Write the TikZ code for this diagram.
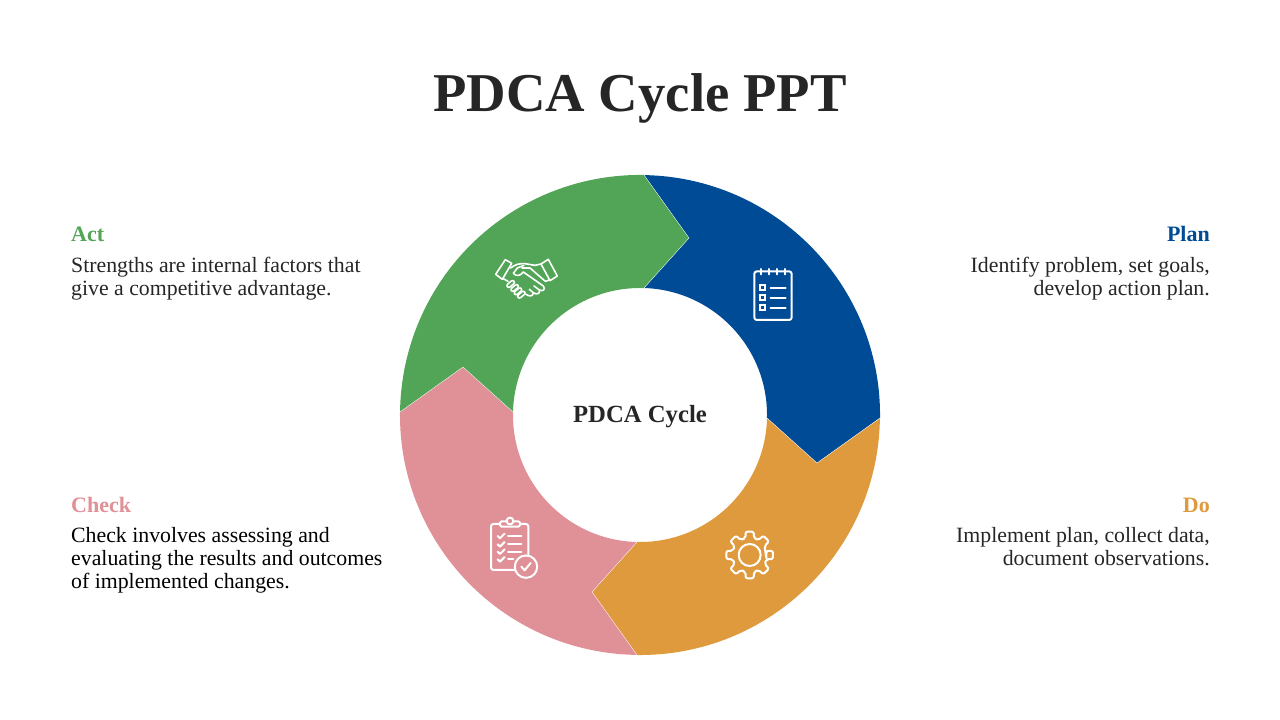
\documentclass[tikz,border=0pt]{standalone}
\usepackage{fontspec}
\setmainfont{Liberation Serif}
\usetikzlibrary{calc}
\definecolor{planc}{HTML}{004B96}
\definecolor{doc}{HTML}{E09A3E}
\definecolor{checkc}{HTML}{E09097}
\definecolor{actc}{HTML}{52A557}
\definecolor{inkc}{HTML}{262626}
\tikzset{
  seg/.style={draw=white,line width=0.3pt,line join=miter},
  ico/.style={draw=white,line width=2pt,line cap=round,line join=round,fill=none},
  hs/.style={draw=white,line width=1.6pt,line cap=round,line join=round},
  headl/.style={anchor=base west,inner sep=0,font=\fontsize{22}{24}\selectfont\bfseries},
  headr/.style={anchor=base east,inner sep=0,font=\fontsize{22}{24}\selectfont\bfseries},
  bodyl/.style={anchor=north west,inner sep=0,align=left,text=inkc,font=\fontsize{21.8}{23}\selectfont},
  bodyr/.style={anchor=north east,inner sep=0,align=right,text=inkc,font=\fontsize{21.8}{23}\selectfont},
}
\begin{document}
\begin{tikzpicture}[x=1pt,y=1pt]
\useasboundingbox (0,0) rectangle (1280,720);
\coordinate (c) at (640,305);
% Plan
\fill[planc] (644,545) -- (689,482) -- (644,432) arc[start angle=88.2,end angle=-1.35,radius=127] -- (817,257) -- (880,302) arc[start angle=-0.7,end angle=89.05,radius=240] -- cycle;
% Do
\fill[doc] (880,302) -- (817,257) -- (767,302) arc[start angle=-1.35,end angle=-91.35,radius=127] -- (592,128) -- (637,65) arc[start angle=-90.7,end angle=-0.7,radius=240] -- cycle;
% Check
\fill[checkc] (637,65) -- (592,128) -- (637,178) arc[start angle=268.65,end angle=178.65,radius=127] -- (463,353) -- (400,308) arc[start angle=179.3,end angle=269.3,radius=240] -- cycle;
% Act
\fill[actc] (400,308) -- (463,353) -- (513,308) arc[start angle=178.65,end angle=88.2,radius=127] -- (689,482) -- (644,545) arc[start angle=89.05,end angle=179.3,radius=240] -- cycle;
% seams
\draw[seg] (644,545) -- (689,482) -- (644,432);
\draw[seg] (880,302) -- (817,257) -- (767,302);
\draw[seg] (637,65) -- (592,128) -- (637,178);
\draw[seg] (400,308) -- (463,353) -- (513,308);

% Title and labels
\node[inner sep=0,text=inkc,font=\fontsize{54.7}{60}\selectfont\bfseries] (title) at (640,622) {PDCA Cycle PPT};
\node[inner sep=0,text=inkc,font=\fontsize{24.7}{28}\selectfont\bfseries] (centre) at (640,303) {PDCA Cycle};

\node[headl,text=actc] (acth) at (71,478) {Act};
\node[bodyl] (actb) at (71,463.5) {Strengths are internal factors that\\give a competitive advantage.};
\node[headr,text=planc] (planh) at (1210,478) {Plan};
\node[bodyr] (planb) at (1210,463.5) {Identify problem, set goals,\\develop action plan.};
\node[headl,text=checkc] (checkh) at (71,207) {Check};
\node[bodyl,text=black] (checkb) at (71,192.5) {Check involves assessing and\\evaluating the results and outcomes\\of implemented changes.};
\node[headr,text=doc] (doh) at (1210,207) {Do};
\node[bodyr] (dob) at (1210,192.5) {Implement plan, collect data,\\document observations.};

% Notepad icon
\begin{scope}[shift={(740pt,460pt)},x=0.3333pt,y=-0.3333pt]
\draw[ico,rounded corners=2.5pt] (43,34) rectangle (155,180);
\foreach \r in {62,86,110,135} \draw[ico] (\r,27) -- (\r,43);
\foreach \q in {83,113,143} {
  \draw[ico,line cap=butt,line join=miter] (61,\q-7) rectangle (75,\q+7);
  \draw[ico] (92,\q) -- (137,\q);
}
\end{scope}

% Gear icon
\begin{scope}[shift={(715pt,200pt)},x=0.3333pt,y=-0.3333pt]
\draw[ico,rounded corners=2pt] ($(104,105)+(14:52)$) \foreach \a in {0,45,...,315} {
    -- ($(104,105)+(\a-14:52)$) -- ($(104,105)+(\a-10:71)$) -- ($(104,105)+(\a+10:71)$) -- ($(104,105)+(\a+14:52)$)
  } -- cycle;
\draw[ico] (104,105) circle[radius=11pt];
\end{scope}

% Clipboard icon
\begin{scope}[shift={(480pt,210pt)},x=0.3333pt,y=-0.3333pt]
\draw[ico,rounded corners=2.5pt] (105,180) -- (33,180) -- (33,42) -- (145,42) -- (145,133);
\draw[ico,fill=checkc,rounded corners=1.5pt] (60,50) -- (60,34) -- (120,34) -- (120,50) -- cycle;
\draw[ico,fill=checkc] (90,33) circle[radius=3.4pt];
\foreach \q in {78,103,125,148} \draw[ico] (53,\q) -- (60,\q+7) -- (74,\q-7);
\foreach \q in {78,103,125} \draw[ico] (84,\q) -- (124,\q);
\draw[ico] (84,148) -- (100,148);
\draw[ico] (138,170) circle[radius=11.2pt];
\draw[ico] (124,170) -- (134,181) -- (152,159);
\end{scope}

% Handshake icon
\begin{scope}[shift={(480pt,480pt)},x=0.3333pt,y=-0.3333pt]
\draw[hs] (47,103) -- (76,59) -- (95,70) -- (67,118) -- cycle;
\draw[hs] (183,72) -- (205,58) -- (232,108) -- (210,122) -- cycle;
\draw[hs] (92,84) .. controls (105,74) and (115,70) .. (135,71) -- (165,76) -- (183,72);
\draw[hs] (126,84) -- (150,84) -- (196,124) -- (208,120);
\draw[hs] (70,116) -- (84,124);
\draw[hs] (132,76) -- (112,84) -- (100,100) .. controls (108,110) and (122,108) .. (130,96) -- (190,138) .. controls (198,148) and (188,156) .. (178,150) -- (162,138);
\draw[hs] (178,150) .. controls (182,160) and (170,166) .. (160,158) -- (148,148);
\draw[hs] (160,158) .. controls (160,168) and (150,172) .. (136,162);
\foreach \x/\y in {92/132,104/144,114/154,124/164} {
  \draw[hs,rounded corners=2pt,shift={(\x,\y)},rotate=40] (-13,-5.5) rectangle (13,5.5);
}
\end{scope}
\end{tikzpicture}
\end{document}
